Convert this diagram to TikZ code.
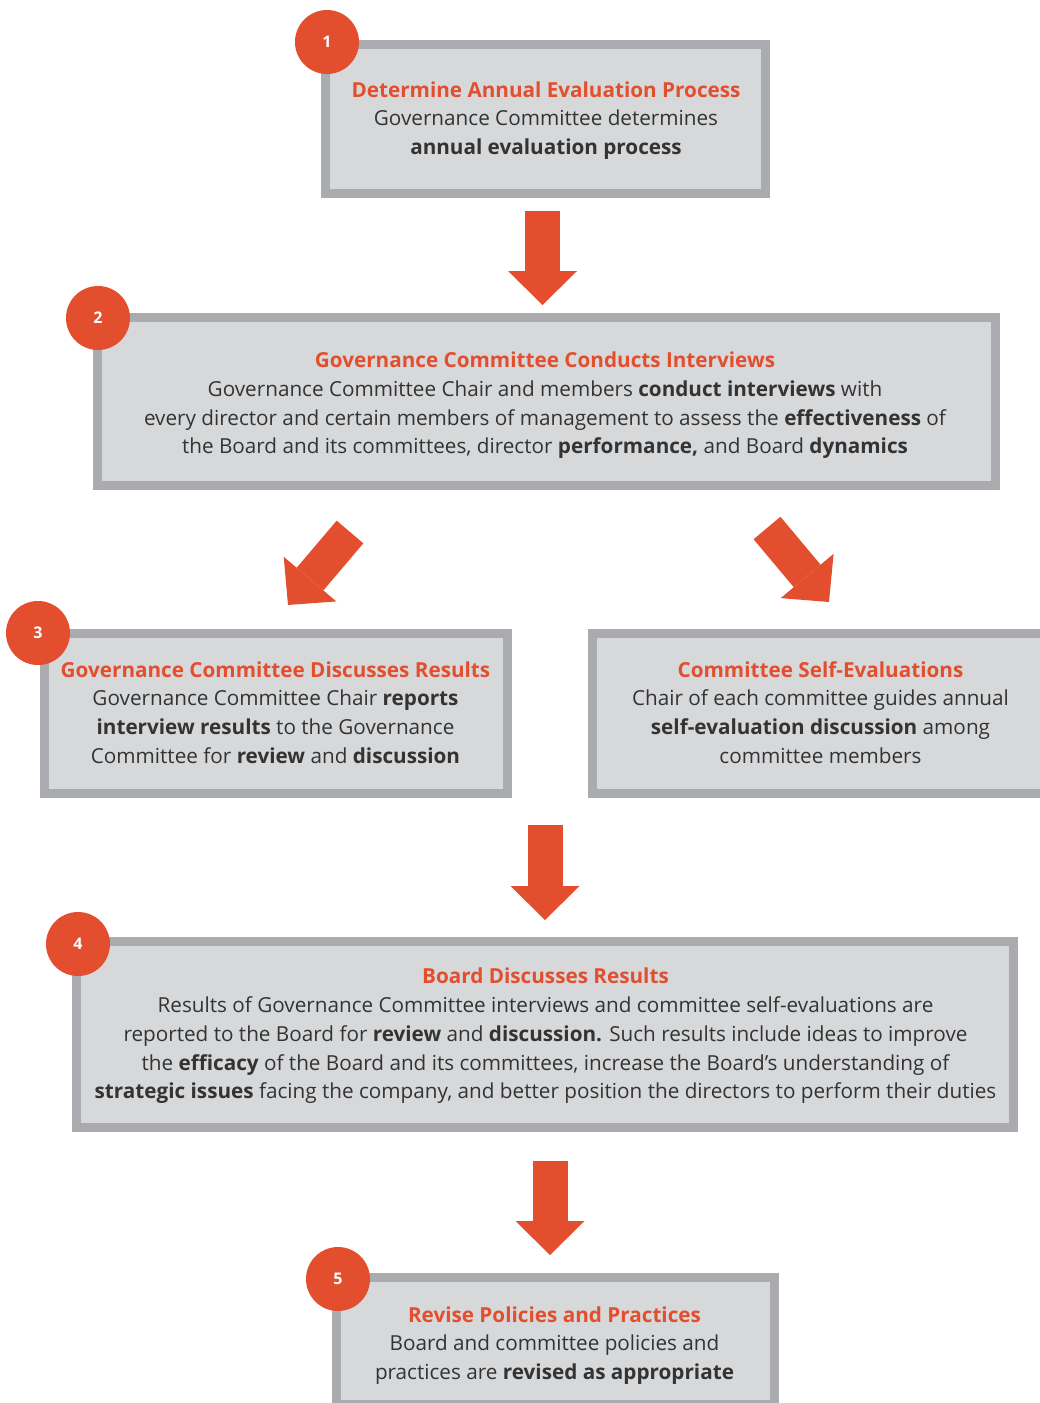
\documentclass[tikz,border=0pt]{standalone}
\usepackage{fontspec}
\setmainfont{Open Sans}
\usetikzlibrary{arrows.meta}
\definecolor{accent}{HTML}{E34F2E}
\definecolor{boxfill}{HTML}{D7D8DA}
\definecolor{boxline}{HTML}{A9ABAE}
\definecolor{bodytext}{HTML}{333333}
\newcommand{\ttl}[1]{{\color{accent}\bfseries #1}}
\begin{document}
\begin{tikzpicture}[x=1pt,y=-1pt,
  stepbox/.style={draw=boxline, fill=boxfill, line width=9pt, inner sep=0pt},
  badge/.style={circle, fill=accent, minimum size=64pt, inner sep=0pt, text=white,
    font=\bfseries\fontsize{16}{16}\selectfont},
  txt/.style={align=center, text=bodytext, inner sep=0pt,
    font=\fontsize{20.7}{28.7}\selectfont},
  bigarrow/.style={draw=accent, line width=35pt,
    -{Triangle[width=69pt,length=34pt,line width=0pt]}}
]
\useasboundingbox (0,0) rectangle (1039,1403);
\fill[white] (0,0) rectangle (1039,1403);

% boxes
\node[stepbox, minimum width=440pt, minimum height=149pt] (b1) at (545.5,119) {};
\node[stepbox, minimum width=898pt, minimum height=168pt] (b2) at (546.5,401.5) {};
\node[stepbox, minimum width=463pt, minimum height=160pt] (b3) at (276,713.5) {};
\node[stepbox, minimum width=453pt, minimum height=160pt] (b3b) at (819,713.5) {};
\node[stepbox, minimum width=937pt, minimum height=186pt] (b4) at (545,1034.5) {};
\node[stepbox, minimum width=438pt, minimum height=127pt] (b5) at (555.5,1341) {};

% texts
\node[txt] (t1) at (546,120.5) {\ttl{Determine Annual Evaluation Process}\\
Governance Committee determines\\
\textbf{annual evaluation process}};

\node[txt] (t2) at (545,405.5) {\ttl{Governance Committee Conducts Interviews}\\
Governance Committee Chair and members \textbf{conduct interviews} with\\
every director and certain members of management to assess the \textbf{effectiveness} of\\
the Board and its committees, director \textbf{performance,} and Board \textbf{dynamics}};

\node[txt] (t3) at (275.5,712.5) {\ttl{Governance Committee Discusses Results}\\
Governance Committee Chair \textbf{reports}\\
\textbf{interview results} to the Governance\\
Committee for \textbf{review} and \textbf{discussion}};

\node[txt] (t3b) at (820.5,712.5) {\ttl{Committee Self-Evaluations}\\
Chair of each committee guides annual\\
\textbf{self-evaluation discussion} among\\
committee members};

\node[txt] (t4) at (545.5,1036) {\ttl{Board Discusses Results}\\
Results of Governance Committee interviews and committee self-evaluations are\\
reported to the Board for \textbf{review} and \textbf{discussion.} Such results include ideas to improve\\
the \textbf{efficacy} of the Board and its committees, increase the Board’s understanding of\\
\textbf{strategic issues} facing the company, and better position the directors to perform their duties};

\node[txt] (t5) at (554.5,1345.5) {\ttl{Revise Policies and Practices}\\
Board and committee policies and\\
practices are \textbf{revised as appropriate}};

% badges
\node[badge] (c1) at (327,42) {1};
\node[badge] (c2) at (98,318) {2};
\node[badge] (c3) at (38,633) {3};
\node[badge] (c4) at (78,944) {4};
\node[badge] (c5) at (338,1279) {5};

% arrows
\coordinate (a1s) at (542.5,211);
\coordinate (a1e) at (542.5,305);
\coordinate (a2s) at (350,532);
\coordinate (a2e) at (288,605);
\coordinate (a3s) at (767,528);
\coordinate (a3e) at (829,602);
\coordinate (a4s) at (545,825);
\coordinate (a4e) at (545,920);
\coordinate (a5s) at (550,1161);
\coordinate (a5e) at (550,1255);
\draw[bigarrow] (a1s) -- (a1e);
\draw[bigarrow] (a2s) -- (a2e);
\draw[bigarrow] (a3s) -- (a3e);
\draw[bigarrow] (a4s) -- (a4e);
\draw[bigarrow] (a5s) -- (a5e);
\end{tikzpicture}
\end{document}
